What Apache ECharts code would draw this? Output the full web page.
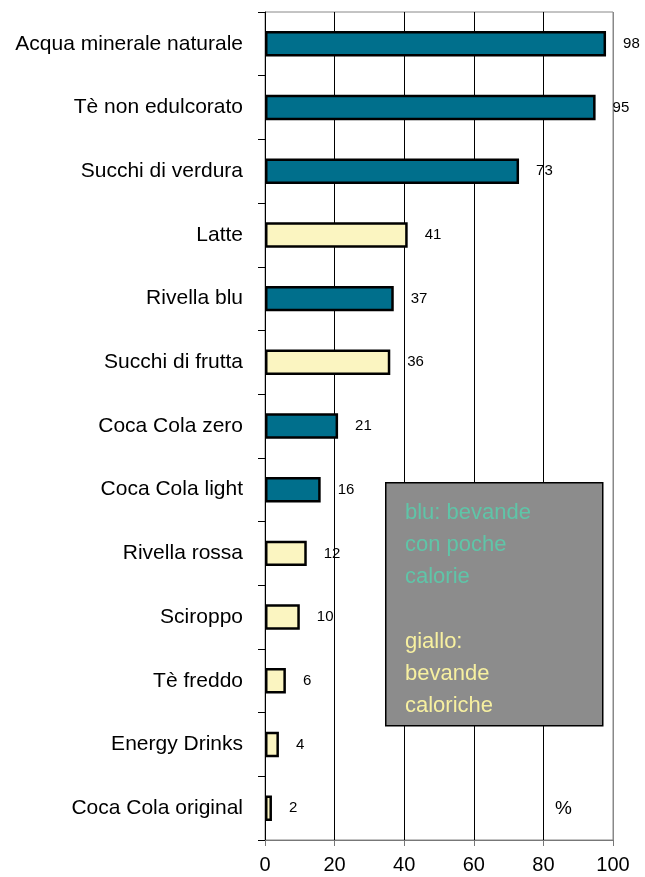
<!DOCTYPE html>
<html>
<head>
<meta charset="utf-8">
<script src="https://cdn.jsdelivr.net/npm/echarts@6/dist/echarts.min.js"></script>
<style>
html,body{margin:0;padding:0;background:#fff;}
#chart{width:645px;height:877px;}
</style>
</head>
<body>
<div id="chart"></div>
<script>
const categories = ["Acqua minerale naturale","Tè non edulcorato","Succhi di verdura","Latte","Rivella blu","Succhi di frutta","Coca Cola zero","Coca Cola light","Rivella rossa","Sciroppo","Tè freddo","Energy Drinks","Coca Cola original"];
const values = [98,95,73,41,37,36,21,16,12,10,6,4,2];
const groups = ["blu","blu","blu","giallo","blu","giallo","blu","blu","giallo","giallo","giallo","giallo","giallo"];
const xTicks = [0,20,40,60,80,100];

const groupColors = {blu:"#006f8c", giallo:"#fbf5c1"};
const font = "'Liberation Sans', Arial, sans-serif";

const chart = echarts.init(document.getElementById('chart'));
chart.setOption({
  animation:false,
  backgroundColor:'#fff',
  grid:{left:265,right:32,top:12,bottom:37,show:true,borderColor:'#888',borderWidth:1,backgroundColor:'transparent'},
  xAxis:{
    type:'value',min:xTicks[0],max:xTicks[xTicks.length-1],interval:20,
    axisLine:{show:true,lineStyle:{color:'#777',width:1}},
    axisTick:{show:true,length:6,lineStyle:{color:'#777'}},
    axisLabel:{color:'#000',fontSize:20,fontFamily:font,margin:15},
    splitLine:{show:true,lineStyle:{color:['#000','#000','#000','#000','#000','#888'],width:1}}
  },
  yAxis:{
    type:'category',data:categories,inverse:true,
    axisLine:{show:true,lineStyle:{color:'#000',width:1}},
    axisTick:{show:true,length:7,lineStyle:{color:'#000'}},
    axisLabel:{color:'#000',fontSize:21,fontFamily:font,margin:22}
  },
  series:[{
    type:'bar',
    barWidth:'40%',
    data: values.map((v,i)=>({value:v,itemStyle:{color:groupColors[groups[i]]}})),
    itemStyle:{borderColor:'#000',borderWidth:2.5},
    label:{show:true,position:'right',distance:17,color:'#000',fontSize:15,fontFamily:font}
  }],
  graphic:[
    {type:'rect',left:385,top:482,shape:{width:217,height:243},style:{fill:'#8c8c8c',stroke:'#000',lineWidth:1.5},z:100},
    {type:'text',left:405,top:497,style:{text:'blu: bevande\ncon poche\ncalorie',fill:'#5fc5a8',font:"22px "+font,lineHeight:32},z:101},
    {type:'text',left:405,top:626,style:{text:'giallo:\nbevande\ncaloriche',fill:'#f7f0a0',font:"22px "+font,lineHeight:32},z:101},
    {type:'text',left:555,top:799,style:{text:'%',fill:'#000',font:"19px "+font},z:101}
  ]
});
</script>
</body>
</html>
